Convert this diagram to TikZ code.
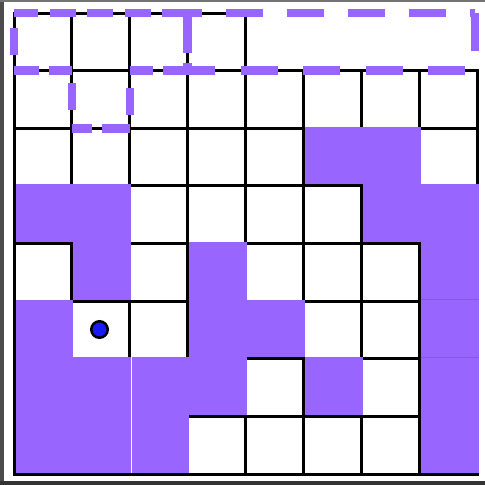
\documentclass[tikz,border=0pt]{standalone}
\definecolor{pur}{RGB}{152,102,255}
\definecolor{dotblue}{RGB}{25,25,250}
\begin{document}
\begin{tikzpicture}[x=1pt,y=-1pt,
  gridline/.style={line width=3pt, black},
  piece/.style={fill=pur},
  dashline/.style={draw=pur, line width=8.5pt, line cap=butt},
  seam/.style={line width=0.6pt, white},
  faintseam/.style={line width=0.6pt, pur!88!black},
  token/.style={circle, draw=black, line width=2.5pt, fill=dotblue, minimum size=16.5pt, inner sep=0pt}
]
\useasboundingbox (0,0) rectangle (485,485);
\fill[white] (0,0) rectangle (485,485);
% outer frame of the picture
\fill[black!70] (0,0) rectangle (3.5,485);
\fill[black!55] (0,0) rectangle (485,2);
\fill[black!80] (0,480.5) rectangle (485,485);
% board grid
\foreach \r in {1,...,7}{
  \foreach \c in {0,...,7}{
    \draw[gridline] ({14+57.875*\c},{13+57.625*\r}) rectangle ++(57.875,57.625);
  }
}
\foreach \c in {0,...,3}{
  \draw[gridline] ({14+57.875*\c},13) rectangle ++(57.875,57.625);
}
% filled cells
\foreach \c/\r in {5/2,6/2,0/3,1/3,6/3,7/3,1/4,3/4,7/4,0/5,3/5,4/5,7/5,0/6,1/6,2/6,3/6,5/6,7/6,0/7,1/7,2/7,7/7}{
  \fill[piece] ({14+57.875*\c+1.5},{13+57.625*\r-1.5}) rectangle ++(57.875,57.625);
}
% seams between pieces
\draw[seam] (131.25,357.25) -- (131.25,472.5);
\draw[faintseam] (420.6,299.6) -- (478.5,299.6);
\draw[faintseam] (420.6,357.25) -- (478.5,357.25);
% dashed outline A
\draw[dashline, dash pattern=on 26 off 11.5, dash phase=2] (14,13) -- (187.6,13);
\draw[dashline, dash pattern=on 40 off 10 on 20 off 10] (187.6,13) -- (187.6,70.6);
\draw[dashline, dash pattern=on 25 off 10] (187.6,70.6) -- (129.75,70.6);
\draw[dashline, dash pattern=on 27 off 30.6, dash phase=40.2] (129.75,70.6) -- (129.75,128.25);
\draw[dashline, dash pattern=on 28 off 10] (129.75,128.25) -- (71.9,128.25);
\draw[dashline, dash pattern=on 27 off 30.6, dash phase=39.4] (71.9,128.25) -- (71.9,70.6);
\draw[dashline, dash pattern=on 26 off 10, dash phase=3] (71.9,70.6) -- (14,70.6);
\draw[dashline, dash pattern=on 27 off 30.6, dash phase=42] (14,70.6) -- (14,13);
% dashed outline B
\draw[dashline, dash pattern=on 37 off 24, dash phase=22.6] (187.6,13) -- (475,13);
\draw[dashline, dash pattern=on 38 off 30] (475,13) -- (475,70.6);
\draw[dashline, dash pattern=on 37 off 25.5, dash phase=52.5] (475,70.6) -- (187.6,70.6);
% token
\node[token] (dot) at (99.5,329.5) {};
\end{tikzpicture}
\end{document}
